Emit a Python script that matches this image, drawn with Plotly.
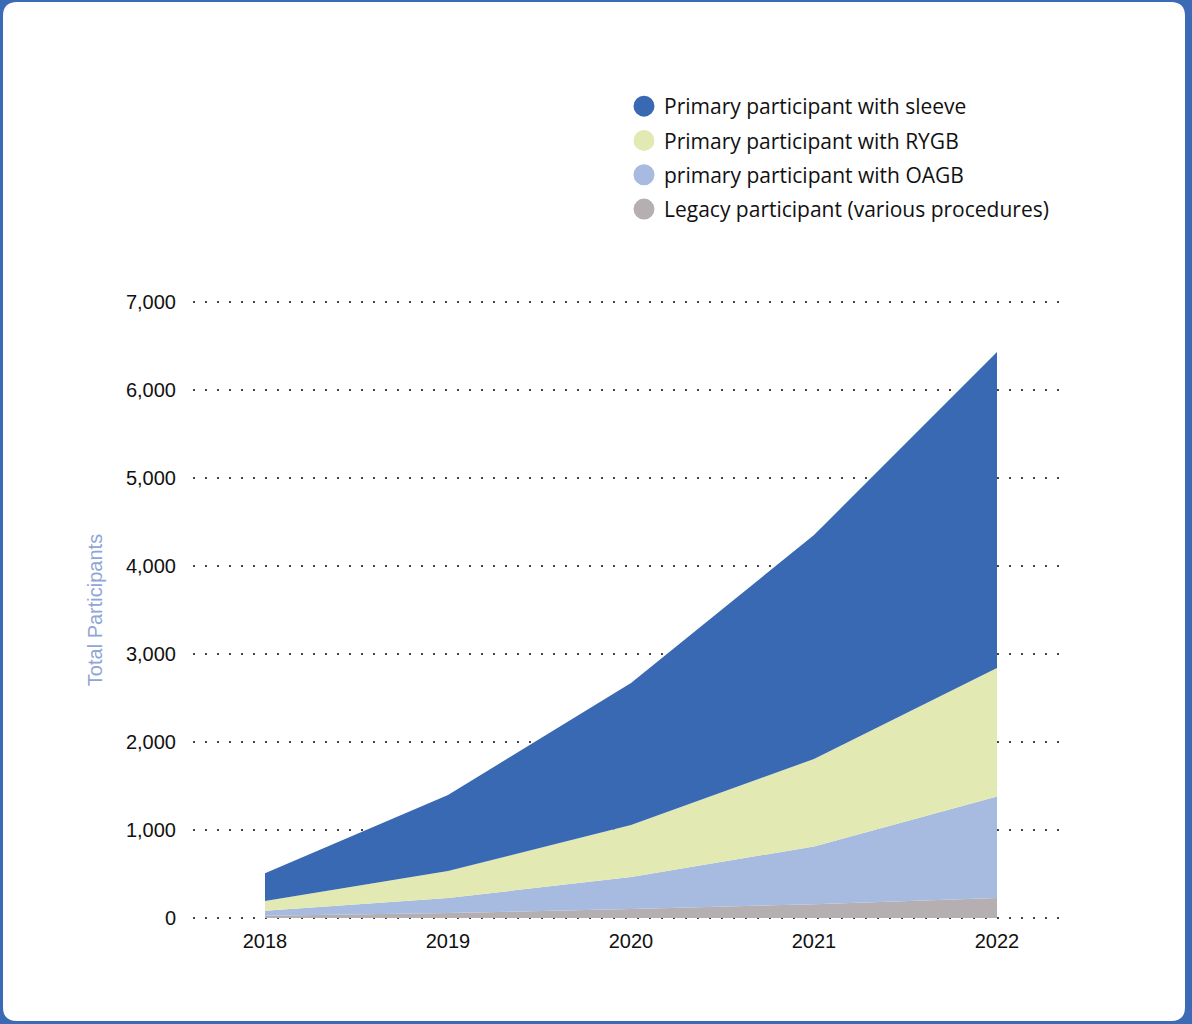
import plotly.graph_objects as go

# ---- data ----
years = [2018, 2019, 2020, 2021, 2022]
year_labels = ["2018", "2019", "2020", "2021", "2022"]
legacy = [26, 57, 102, 156, 228]
oagb = [57, 170, 364, 656, 1152]
rygb = [110, 307, 591, 995, 1461]
sleeve = [315, 864, 1613, 2545, 3591]

series_names = [
    "Legacy participant (various procedures)",
    "primary participant with OAGB",
    "Primary participant with RYGB",
    "Primary participant with sleeve",
]
series_values = [legacy, oagb, rygb, sleeve]
series_colors = ["#B5AFB2", "#A7BBE1", "#E3E9B3", "#3A69B3"]

y_ticks = [0, 1000, 2000, 3000, 4000, 5000, 6000, 7000]

# ---- layout geometry (pixels) ----
W, H = 1192, 1024
PAD = 2  # extra pixels so edge gridlines are drawn
ML, MR, MT, MB = 193, 130, 302 - PAD, 106 - PAD
PW, PH = W - ML - MR, H - MT - MB
Y_PER_PX = 7000 / 616.0


def px_to_paper(x, y):
    return (x - ML) / PW, (H - MB - y) / PH


def rounded_rect(x0, y0, x1, y1, r):
    def P(x, y):
        a, b = px_to_paper(x, y)
        return f"{a:.5f},{b:.5f}"
    return (
        f"M {P(x0 + r, y0)} L {P(x1 - r, y0)} Q {P(x1, y0)} {P(x1, y0 + r)} "
        f"L {P(x1, y1 - r)} Q {P(x1, y1)} {P(x1 - r, y1)} "
        f"L {P(x0 + r, y1)} Q {P(x0, y1)} {P(x0, y1 - r)} "
        f"L {P(x0, y0 + r)} Q {P(x0, y0)} {P(x0 + r, y0)} Z"
    )


fig = go.Figure()

for name, vals, col in zip(series_names, series_values, series_colors):
    fig.add_trace(go.Scatter(
        x=years, y=vals, name=name, stackgroup="one", mode="none",
        fillcolor=col, showlegend=False, hoverinfo="x+y+name",
    ))

# legend entries (circles), top-to-bottom order
for i, (name, col) in enumerate(zip(series_names[::-1], series_colors[::-1])):
    fig.add_trace(go.Scatter(
        x=[None], y=[None], mode="markers", name=name,
        legendgroup=f"g{i}",
        marker=dict(symbol="circle", size=16, color=col,
                    line=dict(color=col, width=5)),
    ))

lx, ly = px_to_paper(624, 86)

fig.update_layout(
    width=W, height=H,
    margin=dict(l=ML, r=MR, t=MT, b=MB, pad=0),
    paper_bgcolor="#3D6AB4",
    plot_bgcolor="rgba(0,0,0,0)",
    font=dict(family="Liberation Sans, Arial, sans-serif", size=20, color="#111111"),
    showlegend=True,
    legend=dict(
        x=lx, y=ly, xanchor="left", yanchor="top",
        font=dict(family="Open Sans, sans-serif", size=21, color="#111111"),
        bgcolor="rgba(0,0,0,0)", tracegroupgap=4, traceorder="grouped",
        itemclick=False, itemwidth=30,
    ),
    shapes=[dict(
        type="path", xref="paper", yref="paper", layer="below",
        path=rounded_rect(3, 2, 1185, 1021, 14),
        fillcolor="#FFFFFF", line=dict(width=0),
    )],
    xaxis=dict(
        range=[2018 - 72 / 183, 2018 + (PW - 72) / 183],
        tickmode="array", tickvals=years, ticktext=year_labels,
        showgrid=False, zeroline=False, showline=False, ticks="",
        ticklabelstandoff=7,
        tickfont=dict(family="Liberation Sans, Arial, sans-serif", size=20, color="#111111"),
    ),
    yaxis=dict(
        range=[-PAD * Y_PER_PX, 7000 + PAD * Y_PER_PX],
        tickmode="array", tickvals=y_ticks, tickformat=",",
        showgrid=True, gridcolor="#444444", gridwidth=1.6, griddash="2px,10px",
        zeroline=False, showline=False, ticks="",
        ticklabelstandoff=16,
        tickfont=dict(family="Liberation Sans, Arial, sans-serif", size=20, color="#111111"),
        title=dict(text="Total Participants", standoff=17,
                   font=dict(family="Liberation Sans, Arial, sans-serif", size=20, color="#8EA5D6")),
    ),
)

fig.write_html("out.html", config={"displayModeBar": False},
               post_script="document.body.style.margin='0px';")
